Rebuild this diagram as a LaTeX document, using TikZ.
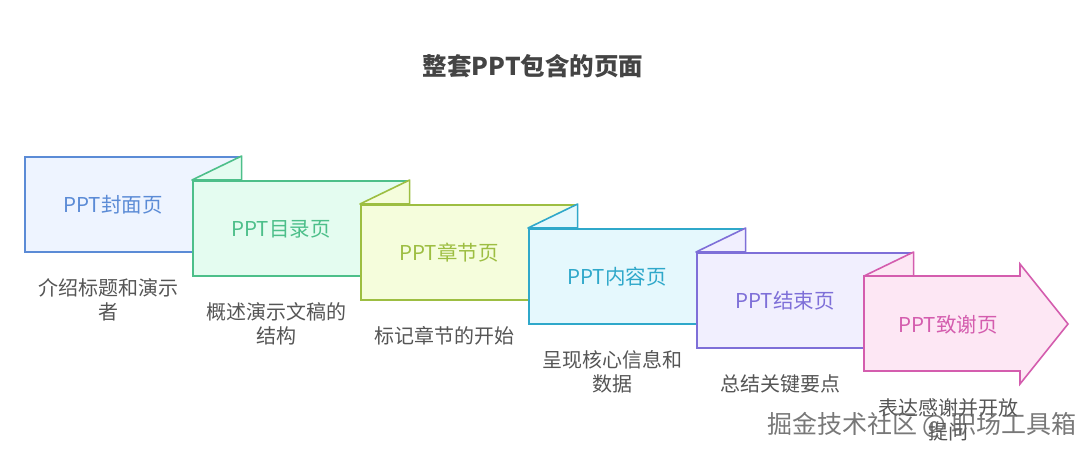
\documentclass[tikz,border=0pt]{standalone}
\usepackage{fontspec}
\setmainfont{Noto Sans CJK SC}
\definecolor{c1}{HTML}{5B8BD6}\definecolor{f1}{HTML}{EEF4FF}
\definecolor{c2}{HTML}{4DBF8A}\definecolor{f2}{HTML}{E4FCF0}
\definecolor{c3}{HTML}{9DBE42}\definecolor{f3}{HTML}{F5FDDC}
\definecolor{c4}{HTML}{2FA8CA}\definecolor{f4}{HTML}{E5F8FD}
\definecolor{c5}{HTML}{7E6FD8}\definecolor{f5}{HTML}{F1EFFE}
\definecolor{c6}{HTML}{D45DAE}\definecolor{f6}{HTML}{FDE7F4}
\definecolor{desc}{HTML}{555555}
\definecolor{ttl}{HTML}{444444}
\tikzset{
  pagebox/.style={draw=c#1, fill=f#1, line width=1.6pt, rectangle, minimum width=216pt, minimum height=95pt, inner sep=0pt, anchor=north west},
  foldtri/.style={draw=c#1, fill=f#1, line width=1.6pt, line join=round},
  lbl/.style={text=c#1, font=\fontsize{20.5}{24}\selectfont},
  dsc/.style={text=desc, font=\fontsize{20}{24}\selectfont, align=center, anchor=north},
}
\begin{document}
\begin{tikzpicture}[x=1pt,y=-1pt]
\useasboundingbox (0,0) rectangle (1092,453);
\fill[white] (0,0) rectangle (1092,453);
\node[font=\bfseries\fontsize{24.5}{28}\selectfont, text=ttl] (title) at (533,66) {整套PPT包含的页面};
% box 1
\node[pagebox=1] (b1) at (24,156) {};
% box 2
\node[pagebox=2] (b2) at (192,180) {};
\draw[foldtri=2] (b2.north west) -- (b1.north east) -- (b1.north east |- b2.north) -- cycle;
% box 3
\node[pagebox=3] (b3) at (360,204) {};
\draw[foldtri=3] (b3.north west) -- (b2.north east) -- (b2.north east |- b3.north) -- cycle;
% box 4
\node[pagebox=4] (b4) at (528,228) {};
\draw[foldtri=4] (b4.north west) -- (b3.north east) -- (b3.north east |- b4.north) -- cycle;
% box 5
\node[pagebox=5] (b5) at (696,252) {};
\draw[foldtri=5] (b5.north west) -- (b4.north east) -- (b4.north east |- b5.north) -- cycle;
% box 6 (arrow)
\coordinate (b6) at (864,276);
\draw[draw=c6, fill=f6, line width=1.6pt, line join=miter]
  (b6) -- (1020,276) -- (1020,264) -- (1068,324) -- (1020,384) -- (1020,371) -- (864,371) -- cycle;
\draw[foldtri=6] (b6) -- (b5.north east) -- (b5.north east |- b6) -- cycle;
% labels
\node[lbl=1] (l1) at (113,205) {PPT封面页};
\node[lbl=2] (l2) at (281,229) {PPT目录页};
\node[lbl=3] (l3) at (449,253) {PPT章节页};
\node[lbl=4] (l4) at (617,277) {PPT内容页};
\node[lbl=5] (l5) at (785,301) {PPT结束页};
\node[lbl=6] (l6) at (948,325) {PPT致谢页};
% descriptions
\node[dsc] (d1) at (108,275) {介绍标题和演示\\者};
\node[dsc] (d2) at (276,299) {概述演示文稿的\\结构};
\node[dsc] (d3) at (444,323) {标记章节的开始};
\node[dsc] (d4) at (612,347) {呈现核心信息和\\数据};
\node[dsc] (d5) at (780,371) {总结关键要点};
\node[dsc] (d6) at (948,395) {表达感谢并开放\\提问};
% watermark
\node[text=black!62, opacity=0.85, font=\fontsize{25}{25}\selectfont] (wm) at (922,425) {掘金技术社区 @ 职场工具箱};
\end{tikzpicture}
\end{document}
